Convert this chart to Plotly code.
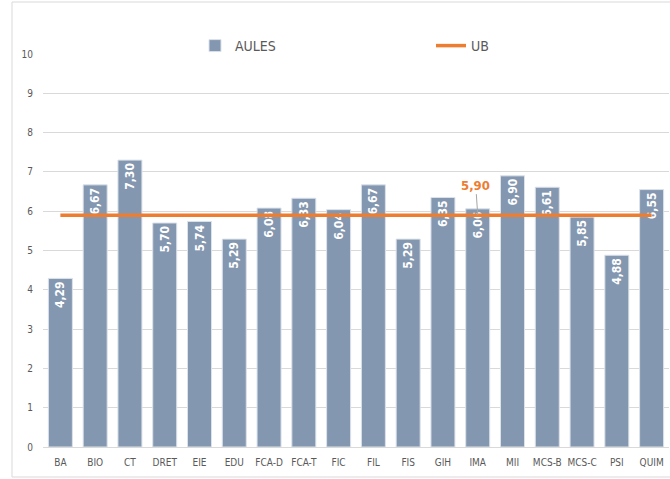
import plotly.graph_objects as go

categories = ["BA", "BIO", "CT", "DRET", "EIE", "EDU", "FCA-D", "FCA-T", "FIC", "FIL",
              "FIS", "GIH", "IMA", "MII", "MCS-B", "MCS-C", "PSI", "QUIM"]
aules = [4.29, 6.67, 7.30, 5.70, 5.74, 5.29, 6.08, 6.33, 6.04, 6.67,
         5.29, 6.35, 6.06, 6.90, 6.61, 5.85, 4.88, 6.55]
ub_value = 5.90
ub = [ub_value] * len(categories)
y_ticks = list(range(0, 11))

FONT = "DejaVu Sans Condensed, Liberation Sans, sans-serif"
BAR_COLOR = "#8497B0"
ORANGE = "#ED7D31"
GRAY_TXT = "#595959"

def fmt(v):
    return f"{v:.2f}".replace(".", ",")

fig = go.Figure()
fig.add_trace(go.Bar(
    x=categories, y=aules, name="AULES",
    marker=dict(color=BAR_COLOR, line=dict(color="#DCE2EA", width=1)),
    text=[fmt(v) for v in aules],
    textposition="inside", insidetextanchor="end", textangle=-90,
    textfont=dict(color="white", size=12, family=FONT, weight="bold"),
    constraintext="none",
))
fig.add_trace(go.Scatter(
    x=categories, y=ub, name="UB", mode="lines",
    line=dict(color=ORANGE, width=3.5),
))

fig.add_annotation(
    x="IMA", y=ub_value, text="<b>" + fmt(ub_value) + "</b>",
    showarrow=True, arrowhead=0, arrowwidth=1, arrowcolor="#A6A6A6",
    ax=-2, ay=-30, font=dict(color=ORANGE, size=13, family=FONT),
)

# outer chart border
fig.add_shape(type="rect", xref="paper", yref="paper",
              x0=(12 - 43) / 626, x1=1.02, y0=(447 - 477) / 393, y1=(447 - 2) / 393,
              line=dict(color="#D9D9D9", width=1), fillcolor="rgba(0,0,0,0)", layer="below")

fig.update_layout(
    width=670, height=479,
    margin=dict(l=43, r=1, t=54, b=32, autoexpand=False),
    paper_bgcolor="white", plot_bgcolor="white",
    bargap=0.31,
    font=dict(family=FONT, color=GRAY_TXT),
    showlegend=True,
    legend=dict(orientation="h", x=(195 - 43) / 626, xanchor="left",
                y=(447 - 46) / 393, yanchor="middle",
                entrywidth=191, entrywidthmode="pixels",
                font=dict(size=14, color=GRAY_TXT, family=FONT),
                bgcolor="rgba(0,0,0,0)"),
)
fig.update_xaxes(
    showgrid=False, showline=True, linecolor="#D9D9D9", linewidth=1,
    tickfont=dict(size=10, color=GRAY_TXT), ticks="", ticklabelstandoff=6,
    tickangle=0, automargin=False,
)
fig.update_yaxes(
    range=[0, 10], tickvals=y_ticks, showgrid=True, gridcolor="#D9D9D9", gridwidth=1,
    zeroline=False, showline=False, ticks="", automargin=False,
    tickfont=dict(size=10, color=GRAY_TXT), ticklabelstandoff=9,
)

fig.write_html("out.html", config={"displayModeBar": False},
               post_script="document.body.style.margin='0';document.body.style.overflow='hidden';")
